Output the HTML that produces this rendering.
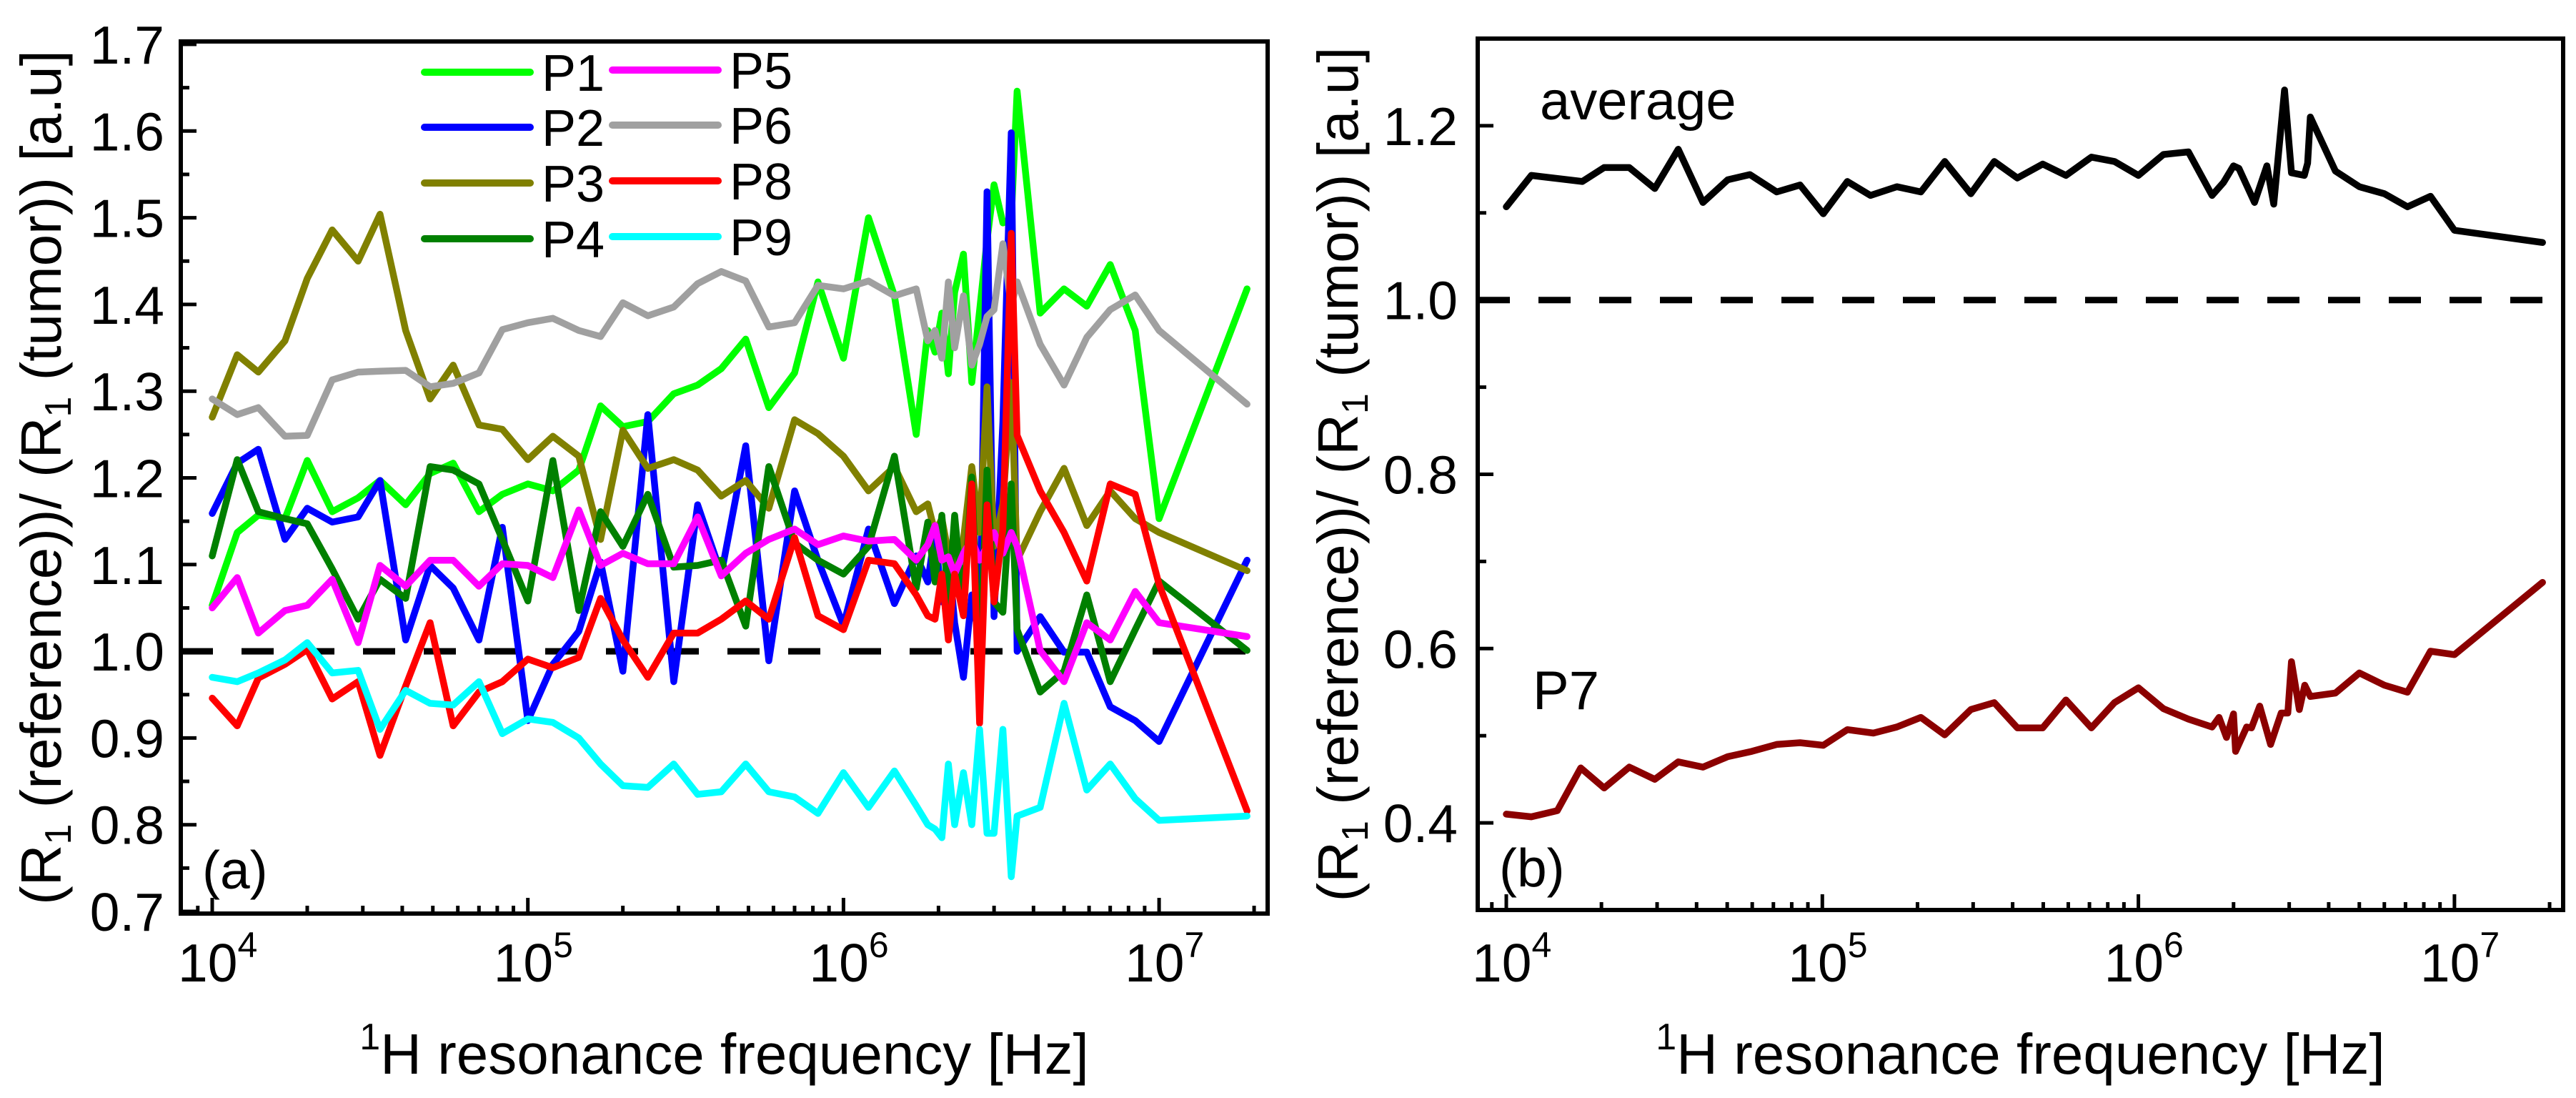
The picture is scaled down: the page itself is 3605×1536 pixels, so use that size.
<!DOCTYPE html>
<html><head><meta charset="utf-8"><title>R1 ratio charts</title>
<style>html,body{margin:0;padding:0;background:#fff}svg{display:block}text{font-family:"Liberation Sans",Arial,sans-serif;fill:#000}</style>
</head><body>
<svg id="fig" width="3605" height="1536" viewBox="0 0 3605 1536" xmlns="http://www.w3.org/2000/svg">
<g id="panelA"></g>
<g id="panelB"></g>
</svg>
<script>
// ---------- Panel (a) data ----------
const freqA = [1e4,1.2e4,1.4e4,1.7e4,2e4,2.4e4,2.9e4,3.4e4,4.1e4,4.9e4,5.8e4,7e4,8.3e4,1e5,1.2e5,1.45e5,1.7e5,2e5,2.4e5,2.9e5,3.45e5,4.1e5,4.9e5,5.8e5,7e5,8.3e5,1e6,1.2e6,1.45e6,1.7e6,1.85e6,1.95e6,2.05e6,2.15e6,2.25e6,2.4e6,2.55e6,2.7e6,2.85e6,3.0e6,3.2e6,3.4e6,3.55e6,4.2e6,5e6,5.9e6,7e6,8.4e6,1e7,1.9e7];
const p1 = [1.053,1.137,1.157,1.153,1.22,1.161,1.177,1.197,1.169,1.205,1.217,1.161,1.181,1.193,1.185,1.209,1.283,1.259,1.265,1.297,1.307,1.326,1.36,1.281,1.321,1.426,1.338,1.5,1.41,1.25,1.37,1.345,1.39,1.32,1.414,1.458,1.31,1.393,1.474,1.538,1.494,1.498,1.646,1.39,1.418,1.398,1.446,1.37,1.153,1.418];
const p2 = [1.159,1.217,1.233,1.129,1.165,1.149,1.155,1.197,1.013,1.099,1.073,1.013,1.143,0.92,0.985,1.023,1.103,0.977,1.273,0.965,1.169,1.089,1.237,0.989,1.185,1.105,1.03,1.141,1.055,1.11,1.08,1.137,1.057,1.113,1.033,0.97,1.065,1.01,1.53,1.04,1.265,1.598,1.0,1.04,0.999,0.999,0.936,0.92,0.896,1.105];
const p3 = [1.27,1.342,1.322,1.358,1.43,1.486,1.45,1.504,1.37,1.291,1.33,1.261,1.256,1.221,1.248,1.225,1.129,1.255,1.211,1.221,1.209,1.179,1.197,1.165,1.267,1.251,1.225,1.185,1.213,1.161,1.17,1.137,1.153,1.113,1.097,1.129,1.213,1.137,1.305,1.121,1.17,1.31,1.105,1.161,1.211,1.145,1.185,1.153,1.137,1.093];
const p4 = [1.11,1.221,1.161,1.153,1.147,1.095,1.037,1.083,1.061,1.213,1.209,1.193,1.129,1.058,1.22,1.047,1.161,1.121,1.181,1.097,1.099,1.105,1.029,1.213,1.125,1.105,1.089,1.121,1.225,1.073,1.149,1.08,1.157,1.057,1.157,1.049,1.201,0.969,1.209,1.057,1.045,1.193,1.025,0.953,0.977,1.065,0.965,1.025,1.081,1.001];
const p5 = [1.05,1.085,1.021,1.047,1.053,1.083,1.01,1.099,1.075,1.105,1.105,1.075,1.101,1.099,1.085,1.163,1.099,1.113,1.101,1.101,1.155,1.087,1.113,1.129,1.141,1.123,1.133,1.127,1.129,1.105,1.123,1.145,1.105,1.109,1.089,1.113,1.129,1.105,1.121,1.137,1.113,1.137,1.121,1.001,0.965,1.033,1.013,1.069,1.033,1.017];
const p6 = [1.291,1.273,1.281,1.248,1.249,1.313,1.322,1.323,1.324,1.305,1.309,1.321,1.371,1.379,1.384,1.37,1.363,1.402,1.387,1.397,1.424,1.438,1.427,1.374,1.379,1.422,1.418,1.427,1.41,1.418,1.358,1.37,1.338,1.426,1.35,1.41,1.33,1.354,1.386,1.394,1.47,1.398,1.426,1.354,1.307,1.362,1.394,1.411,1.37,1.285];
const p8 = [0.946,0.914,0.969,0.985,1.002,0.945,0.965,0.88,0.96,1.033,0.914,0.953,0.965,0.991,0.981,0.993,1.061,1.013,0.97,1.021,1.021,1.037,1.058,1.037,1.131,1.041,1.025,1.105,1.101,1.065,1.041,1.037,1.089,1.013,1.089,1.041,1.193,0.917,1.169,1.057,1.141,1.482,1.249,1.185,1.137,1.081,1.193,1.181,1.077,0.816];
const p9 = [0.97,0.965,0.975,0.99,1.01,0.975,0.978,0.91,0.955,0.94,0.938,0.965,0.905,0.922,0.918,0.9,0.87,0.845,0.843,0.87,0.835,0.838,0.87,0.838,0.832,0.813,0.86,0.82,0.862,0.822,0.8,0.795,0.785,0.87,0.8,0.86,0.8,0.91,0.79,0.79,0.91,0.74,0.81,0.82,0.94,0.84,0.87,0.83,0.805,0.81];
const namesA = ["P1","P2","P3","P4","P5","P6","P8","P9"];
const yTicksA = [0.7,0.8,0.9,1.0,1.1,1.2,1.3,1.4,1.5,1.6,1.7];
const xDecades = [4,5,6,7];
// ---------- Panel (b) data ----------
const freqAvg = [1e4,1.2e4,1.74e4,2.04e4,2.45e4,2.95e4,3.5e4,4.19e4,5.02e4,5.9e4,7.17e4,8.5e4,1.007e5,1.2e5,1.42e5,1.72e5,2.05e5,2.44e5,2.95e5,3.5e5,4.14e5,4.98e5,5.9e5,7.1e5,8.4e5,1.0e6,1.2e6,1.44e6,1.71e6,1.86e6,2.0e6,2.08e6,2.33e6,2.55e6,2.68e6,2.9e6,3.05e6,3.35e6,3.43e6,3.5e6,4.2e6,5.0e6,6.0e6,7.1e6,8.4e6,1.0e7,1.9e7];
const avgVals = [1.107,1.143,1.136,1.152,1.152,1.128,1.173,1.112,1.138,1.144,1.124,1.132,1.099,1.136,1.12,1.13,1.124,1.159,1.122,1.159,1.14,1.156,1.143,1.164,1.159,1.143,1.167,1.17,1.12,1.135,1.154,1.151,1.112,1.154,1.11,1.241,1.146,1.143,1.157,1.21,1.148,1.13,1.122,1.107,1.119,1.08,1.066];
const freqP7 = [1e4,1.2e4,1.45e4,1.72e4,2.04e4,2.45e4,2.95e4,3.5e4,4.19e4,5.02e4,5.98e4,7.17e4,8.5e4,1.007e5,1.2e5,1.45e5,1.72e5,2.05e5,2.44e5,2.95e5,3.5e5,4.14e5,4.98e5,5.9e5,7.1e5,8.4e5,1.0e6,1.2e6,1.44e6,1.71e6,1.8e6,1.9e6,2.0e6,2.03e6,2.2e6,2.28e6,2.42e6,2.62e6,2.83e6,2.97e6,3.05e6,3.23e6,3.36e6,3.5e6,4.2e6,5.0e6,6.0e6,7.1e6,8.4e6,1.0e7,1.9e7];
const p7Vals = [0.41,0.407,0.414,0.463,0.44,0.464,0.45,0.47,0.464,0.476,0.482,0.49,0.492,0.489,0.507,0.503,0.51,0.521,0.501,0.53,0.538,0.509,0.509,0.541,0.509,0.538,0.555,0.531,0.519,0.51,0.521,0.498,0.525,0.482,0.51,0.509,0.534,0.49,0.526,0.526,0.585,0.53,0.558,0.545,0.549,0.572,0.558,0.55,0.597,0.593,0.676];
const yTicksB = [0.4,0.6,0.8,1.0,1.2];

const NS = "http://www.w3.org/2000/svg";
function mk(parent, tag, attrs, txt) {
  const e = document.createElementNS(NS, tag);
  for (const k in attrs) e.setAttribute(k, attrs[k]);
  if (txt !== undefined) e.textContent = txt;
  parent.appendChild(e);
  return e;
}
const seriesA = [p1,p2,p3,p4,p5,p6,p8,p9];
const colorsA = ["#00ff00","#0000ff","#808000","#008000","#ff00ff","#a0a0a0","#ff0000","#00ffff"];

function buildPanel(g, cfg) {
  const X = f => cfg.x0 + (Math.log10(f) - 4) * cfg.dec;
  const Y = v => cfg.yTop + (cfg.yMax - v) * cfg.ppu;
  const ref = mk(g, "line", {x1: cfg.L, x2: cfg.R, y1: Y(1.0), y2: Y(1.0), stroke: "#000", "stroke-width": 9, "stroke-dasharray": "45 40"});
  
  
  cfg.series.forEach((s, i) => {
    const pts = s.vals.map((v, j) => X(s.freq[j]).toFixed(1) + "," + Y(v).toFixed(1)).join(" ");
    const pl = mk(g, "polyline", {points: pts, fill: "none", stroke: s.color, "stroke-width": 9.5, "stroke-linejoin": "round", "stroke-linecap": "round"});
    
    
  });
  const fr = mk(g, "rect", {x: cfg.L, y: cfg.T, width: cfg.R - cfg.L, height: cfg.B - cfg.T, fill: "none", stroke: "#000", "stroke-width": 6});
  
  
  const yax = mk(g, "g", {});
  
  
  cfg.yTicks.forEach(v => {
    const y = Y(v);
    mk(yax, "line", {x1: cfg.L, x2: cfg.L + 22, y1: y, y2: y, stroke: "#000", "stroke-width": 5});
    const t = mk(yax, "text", {x: cfg.labR, y: y + 27, "text-anchor": "end", "font-size": 75}, v.toFixed(1));
    
    
  });
  for (let i = 0; i < cfg.yTicks.length - 1; i++) {
    const y = Y((cfg.yTicks[i] + cfg.yTicks[i + 1]) / 2);
    mk(yax, "line", {x1: cfg.L, x2: cfg.L + 12, y1: y, y2: y, stroke: "#000", "stroke-width": 5});
  }
  const yEnd = Y(cfg.yTicks[cfg.yTicks.length - 1] + (cfg.yTicks[1] - cfg.yTicks[0]) / 2);
  if (yEnd > cfg.T + 4) mk(yax, "line", {x1: cfg.L, x2: cfg.L + 12, y1: yEnd, y2: yEnd, stroke: "#000", "stroke-width": 5});
  const yBeg = Y(cfg.yTicks[0] - (cfg.yTicks[1] - cfg.yTicks[0]) / 2);
  if (yBeg < cfg.B - 4) mk(yax, "line", {x1: cfg.L, x2: cfg.L + 12, y1: yBeg, y2: yBeg, stroke: "#000", "stroke-width": 5});
  const xax = mk(g, "g", {});
  
  
  [3,4,5,6,7].forEach(d => {
    for (let m = 1; m <= 9; m++) {
      const x = X(m * Math.pow(10, d));
      if (x < cfg.L + 5 || x > cfg.R - 5) continue;
      const len = m === 1 ? 22 : 11;
      mk(xax, "line", {x1: x, x2: x, y1: cfg.B, y2: cfg.B - len, stroke: "#000", "stroke-width": 5});
    }
  });
  xDecades.forEach(d => {
    const x = X(Math.pow(10, d));
    const t = mk(xax, "text", {x: x - 48, y: 1373, "font-size": 75}, "10");
    
    
    mk(t, "tspan", {dy: -34, "font-size": 50}, String(d));
  });
  const xt = mk(g, "text", {x: (cfg.L + cfg.R) / 2, y: 1502, "text-anchor": "middle", "font-size": 80});
  
  
  mk(xt, "tspan", {"font-size": 52, dy: -34}, "1");
  mk(xt, "tspan", {dy: 34}, "H resonance frequency [Hz]");
  const cy = (cfg.T + cfg.B) / 2;
  const yt = mk(g, "text", {x: cfg.ytX, y: cy, "text-anchor": "middle", "font-size": 80, transform: "rotate(-90 " + cfg.ytX + " " + cy + ")"});
  
  
  mk(yt, "tspan", {}, "(R");
  mk(yt, "tspan", {"font-size": 52, dy: 14}, "1");
  mk(yt, "tspan", {dy: -14}, " (reference))/ (R");
  mk(yt, "tspan", {"font-size": 52, dy: 14}, "1");
  mk(yt, "tspan", {dy: -14}, " (tumor)) [a.u]");
  const pl = mk(g, "text", {x: cfg.L + 30, y: cfg.letterY, "font-size": 75}, cfg.letter);
  
  
}

const gA = document.getElementById("panelA");
buildPanel(gA, {
  L: 253, R: 1774, T: 58, B: 1278, x0: 297, dec: 441.7, yTop: 62, yMax: 1.7, ppu: 1213,
  yTicks: yTicksA, labR: 230, ytX: 85, letter: "(a)", letterY: 1243,
  series: seriesA.map((v, i) => ({vals: v, freq: freqA, color: colorsA[i], name: namesA[i]}))
});
const leg = mk(gA, "g", {});


const legRows = [101, 178, 256, 334];
namesA.forEach((n, i) => {
  const col = i < 4 ? 0 : 1;
  const row = i % 4;
  const lx = col === 0 ? 594 : 857;
  const ly = legRows[row] - (col === 1 ? 3 : 0);
  const e = mk(leg, "g", {});
  
  
  mk(e, "line", {x1: lx, x2: lx + 148, y1: ly, y2: ly, stroke: colorsA[i], "stroke-width": 10, "stroke-linecap": "round"});
  mk(e, "text", {x: lx + 164, y: ly + 26, "font-size": 72}, n);
});

const gB = document.getElementById("panelB");
buildPanel(gB, {
  L: 2068, R: 3587, T: 54, B: 1273, x0: 2108, dec: 442.3, yTop: 54, yMax: 1.3, ppu: 1219,
  yTicks: yTicksB, labR: 2040, ytX: 1900, letter: "(b)", letterY: 1240,
  series: [
    {vals: avgVals, freq: freqAvg, color: "#000000", name: "average"},
    {vals: p7Vals, freq: freqP7, color: "#8b0000", name: "P7"}
  ]
});
const la = mk(gB, "text", {x: 2155, y: 167, "font-size": 76}, "average");


const lp = mk(gB, "text", {x: 2145, y: 992, "font-size": 76}, "P7");


</script>
</body></html>
